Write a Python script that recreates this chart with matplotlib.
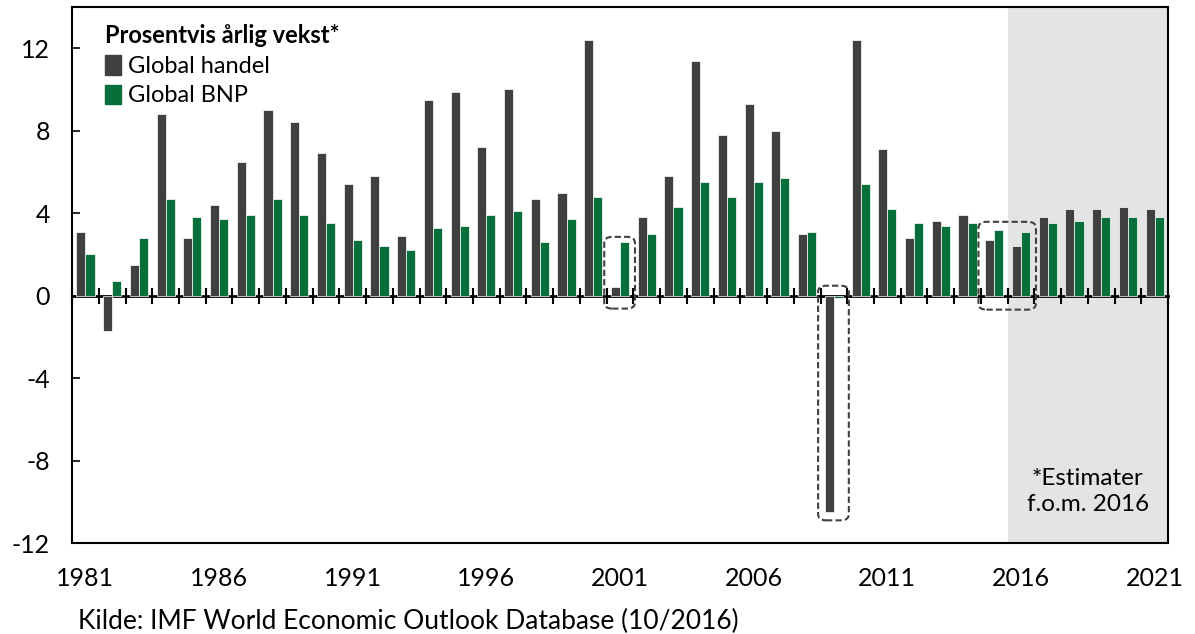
import numpy as np
import matplotlib.pyplot as plt
from matplotlib.patches import Patch, FancyBboxPatch

plt.rcParams['font.family'] = ['Lato', 'DejaVu Sans']

years = list(range(1981, 2022))
handel = [3.1, -1.7, 1.5, 8.8, 2.8, 4.4, 6.5, 9.0, 8.4, 6.9,
          5.4, 5.8, 2.9, 9.5, 9.9, 7.2, 10.0, 4.7, 5.0, 12.4,
          0.4, 3.8, 5.8, 11.4, 7.8, 9.3, 8.0, 3.0, -10.5, 12.4,
          7.1, 2.8, 3.6, 3.9, 2.7, 2.4, 3.8, 4.2, 4.2, 4.3, 4.2]
bnp = [2.0, 0.7, 2.8, 4.7, 3.8, 3.7, 3.9, 4.7, 3.9, 3.5,
       2.7, 2.4, 2.2, 3.3, 3.4, 3.9, 4.1, 2.6, 3.7, 4.8,
       2.6, 3.0, 4.3, 5.5, 4.8, 5.5, 5.7, 3.1, -0.1, 5.4,
       4.2, 3.5, 3.4, 3.5, 3.2, 3.1, 3.5, 3.6, 3.8, 3.8, 3.8]
label_years = [1981, 1986, 1991, 1996, 2001, 2006, 2011, 2016, 2021]
estimate_from = 2016
# years highlighted with dashed boxes: (first year, last year, top, bottom)
highlights = [(2001, 2001, 2.85, -0.63), (2009, 2009, 0.48, -10.9),
              (2015, 2016, 3.58, -0.68)]

c_handel = '#404040'
c_bnp = '#07703a'

fig = plt.figure(figsize=(11.95, 6.34), dpi=100)
ax = fig.add_axes([0.0603, 0.1435, 0.9171, 0.8455])

x = np.arange(len(years))
w = 0.34
ax.bar(x - w / 2, handel, w, color=c_handel, edgecolor='white', linewidth=0.5, zorder=3)
ax.bar(x + w / 2, bnp, w, color=c_bnp, edgecolor='white', linewidth=0.5, zorder=3)

ax.set_xlim(-0.5, len(years) - 0.5)
ax.set_ylim(-12, 14)

# shaded estimate period
i0 = years.index(estimate_from)
ax.axvspan(i0 - 0.5, len(years) - 0.5, color='#e4e4e4', zorder=0, lw=0)
ax.text((i0 + len(years) - 1) / 2, -9.5, '*Estimater\nf.o.m. 2016',
        ha='center', va='center', fontsize=17.5, linespacing=1.3, zorder=4)

# dashed boxes
for y0, y1, top, bot in highlights:
    a, b = years.index(y0), years.index(y1)
    box = FancyBboxPatch((a - 0.59, bot), (b - a) + 1.15, top - bot,
                         boxstyle='round,pad=0,rounding_size=0.3',
                         fill=False, edgecolor='#404040', linestyle=(0, (3, 1.5)),
                         linewidth=1.5, zorder=5)
    ax.add_patch(box)

# y axis
ax.set_yticks([-12, -8, -4, 0, 4, 8, 12])
ax.set_yticklabels(['-12', '-8', '-4', '0', '4', '8', '12'])
ax.tick_params(axis='y', direction='in', length=6, width=1.2, pad=16, labelsize=18)

# x axis labels at the bottom
ax.set_xticks([years.index(y) for y in label_years])
ax.set_xticklabels([str(y) for y in label_years])
ax.tick_params(axis='x', length=0, pad=17, labelsize=18)

for s in ax.spines.values():
    s.set_linewidth(1.5)
    s.set_zorder(6)

# zero line with category ticks
sec = ax.secondary_xaxis(12 / 26)
sec.set_xticks(np.arange(-0.5, len(years), 1.0))
sec.set_xticklabels([])
sec.tick_params(direction='inout', length=12, width=1.5)
sec.spines['bottom'].set_linewidth(2)
sec.spines['top'].set_linewidth(2)

# legend
handles = [Patch(color=c_handel, label='Global handel'),
           Patch(color=c_bnp, label='Global BNP')]
leg = ax.legend(handles=handles, title='Prosentvis årlig vekst*', loc='upper left',
                bbox_to_anchor=(0.021, 0.985), frameon=False, fontsize=17,
                title_fontproperties={'weight': 'bold', 'size': 17},
                handlelength=0.7, handleheight=0.9, handletextpad=0.3,
                labelspacing=0.32, borderaxespad=0)
leg._legend_box.align = 'left'

fig.text(78 / 1195, 1 - 621 / 634, 'Kilde: IMF World Economic Outlook Database (10/2016)',
         fontsize=19, va='center', ha='left')

fig.savefig('out.png', dpi=100)
